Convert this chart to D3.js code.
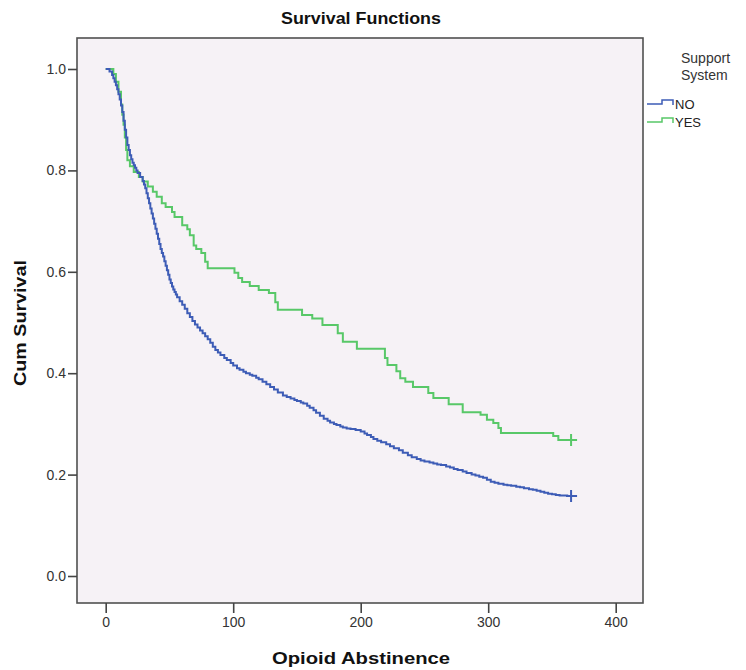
<!DOCTYPE html>
<html><head><meta charset="utf-8">
<script src="https://cdn.jsdelivr.net/npm/d3@7"></script>
<style>body{margin:0;background:#fff}svg{display:block}text{font-family:Arial,"Liberation Sans",sans-serif;fill:#333}</style>
</head><body><div id="chart"></div>
<script>
const title = "Survival Functions";
const xTitle = "Opioid Abstinence";
const yTitle = "Cum Survival";
const legendTitle = ["Support", "System"];
const groups = ["NO", "YES"];
const xTicks = [0, 100, 200, 300, 400];
const yTicks = [0.0, 0.2, 0.4, 0.6, 0.8, 1.0];

// NO (no support system) step times and survival
const noTimes = [0,3,5,6,7,8,9,10,11,12,13,14,15,16,17,18,19,20,21,22,23,24,25,27,29,30,31,32,33,34,35,36,37,38,39,40,41,42,43,44,45,46,47,48,49,50,51,52,53,54,55,56,58,60,62,64,66,68,70,72,74,76,78,80,82,84,86,88,90,93,95,98,100,103,105,108,110,113,115,118,120,123,126,129,132,135,139,142,145,148,150,153,155,158,160,163,165,168,171,174,176,179,181,184,186,189,192,196,200,203,205,208,210,213,216,220,223,226,230,233,237,240,244,247,250,254,257,260,263,267,270,273,276,280,283,287,290,293,296,299,302,305,308,312,315,318,322,325,328,332,335,338,341,344,347,350,353,356,358,362,365];
const noSurv  = [1.0,0.995,0.988,0.982,0.975,0.968,0.96,0.95,0.94,0.928,0.915,0.898,0.88,0.865,0.85,0.84,0.83,0.822,0.815,0.81,0.805,0.8,0.795,0.787,0.779,0.772,0.765,0.755,0.745,0.735,0.725,0.715,0.705,0.695,0.685,0.675,0.665,0.655,0.645,0.637,0.63,0.621,0.612,0.603,0.594,0.585,0.578,0.571,0.565,0.56,0.555,0.55,0.542,0.535,0.527,0.518,0.511,0.503,0.496,0.49,0.484,0.479,0.473,0.467,0.46,0.452,0.446,0.441,0.436,0.43,0.426,0.42,0.415,0.41,0.407,0.403,0.4,0.397,0.395,0.391,0.388,0.383,0.378,0.373,0.368,0.362,0.356,0.353,0.35,0.347,0.345,0.342,0.34,0.336,0.332,0.327,0.322,0.316,0.31,0.306,0.303,0.3,0.298,0.295,0.293,0.291,0.29,0.288,0.285,0.281,0.278,0.274,0.27,0.267,0.264,0.26,0.256,0.252,0.248,0.243,0.238,0.234,0.231,0.228,0.226,0.224,0.222,0.22,0.219,0.216,0.214,0.211,0.209,0.206,0.203,0.2,0.198,0.196,0.194,0.19,0.186,0.184,0.182,0.18,0.179,0.178,0.176,0.175,0.173,0.171,0.17,0.168,0.166,0.164,0.162,0.161,0.16,0.159,0.159,0.158,0.158];

// YES (support system) step times and survival
const yesTimes = [0,6,8,10,12,13,14,15,16,17,19,22,26,29,33,37,40,44,47,52,54,60,64,66,69,71,75,78,80,101,104,107,113,120,128,133,135,154,162,170,182,186,197,219,221,228,231,235,241,253,257,269,280,294,299,304,308,310,351,355,365];
const yesSurv  = [1.0,0.99,0.975,0.955,0.93,0.91,0.89,0.865,0.84,0.82,0.808,0.797,0.787,0.778,0.768,0.758,0.748,0.735,0.728,0.718,0.708,0.692,0.684,0.672,0.652,0.645,0.637,0.62,0.607,0.598,0.588,0.58,0.572,0.564,0.558,0.54,0.525,0.515,0.508,0.495,0.479,0.462,0.448,0.43,0.416,0.404,0.39,0.383,0.373,0.361,0.351,0.339,0.323,0.318,0.308,0.302,0.292,0.282,0.276,0.268,0.268];
const censorTime = 365;

const W = 746, H = 670;
const frame = {l: 77, r: 643, t: 38, b: 603};
const svg = d3.select("#chart").append("svg").attr("width", W).attr("height", H);

const x = d3.scaleLinear().domain([0, 400]).range([105.7, 615.7]);
const y = d3.scaleLinear().domain([0, 1]).range([576, 69]);

svg.append("rect").attr("x", frame.l).attr("y", frame.t)
  .attr("width", frame.r - frame.l).attr("height", frame.b - frame.t)
  .attr("fill", "#f6f2f6").attr("stroke", "#505050").attr("stroke-width", 1.6);

const yAxis = svg.append("g").attr("transform", `translate(${frame.l},0)`)
  .call(d3.axisLeft(y).tickValues(yTicks).tickFormat(d3.format(".1f")).tickSize(9).tickPadding(2));
const xAxis = svg.append("g").attr("transform", `translate(0,${frame.b})`)
  .call(d3.axisBottom(x).tickValues(xTicks).tickFormat(d3.format("d")).tickSize(10).tickPadding(4));
[yAxis, xAxis].forEach(g => {
  g.select(".domain").remove();
  g.selectAll(".tick line").attr("stroke", "#444").attr("stroke-width", 1.6);
  g.selectAll(".tick text").attr("font-size", 14).style("fill", "#333").attr("font-family", "Arial, 'Liberation Sans', sans-serif");
});

const colors = {NO: "#3d5cb6", YES: "#58c868"};
const series = [
  {name: "NO", t: noTimes, s: noSurv},
  {name: "YES", t: yesTimes, s: yesSurv}
];
const line = d3.line().x(d => x(d[0])).y(d => y(d[1])).curve(d3.curveStepAfter);
series.slice().reverse().forEach(sr => {
  const pts = sr.t.map((t, i) => [t, sr.s[i]]);
  svg.append("path").datum(pts).attr("d", line)
    .attr("fill", "none").attr("stroke", colors[sr.name]).attr("stroke-width", 2);
  const last = pts[pts.length - 1];
  const cx = x(censorTime), cy = y(last[1]);
  svg.append("path").attr("d", `M${cx - 5},${cy}H${cx + 6}M${cx},${cy - 6}V${cy + 6}`)
    .attr("stroke", colors[sr.name]).attr("stroke-width", 2).attr("fill", "none");
});

svg.append("text").attr("x", 361).attr("y", 24).attr("text-anchor", "middle")
  .attr("font-size", 17).attr("font-weight", "bold").style("fill", "#111")
  .attr("textLength", 160).attr("lengthAdjust", "spacingAndGlyphs").text(title);
svg.append("text").attr("x", 361).attr("y", 664).attr("text-anchor", "middle")
  .attr("font-size", 17).attr("font-weight", "bold").style("fill", "#111")
  .attr("textLength", 178).attr("lengthAdjust", "spacingAndGlyphs").text(xTitle);
svg.append("text").attr("transform", "translate(26,323) rotate(-90)").attr("text-anchor", "middle")
  .attr("font-size", 17).attr("font-weight", "bold").style("fill", "#111")
  .attr("textLength", 126).attr("lengthAdjust", "spacingAndGlyphs").text(yTitle);

legendTitle.forEach((t, i) => {
  svg.append("text").attr("x", 681).attr("y", 63 + i * 17).attr("font-size", 14).style("fill", "#333").text(t);
});
groups.forEach((g, i) => {
  const ly = 104 + i * 18;
  svg.append("path").attr("d", `M647,${ly}H662V${ly - 4}H673V${ly + 1}`)
    .attr("fill", "none").attr("stroke", colors[g]).attr("stroke-width", 1.5);
  svg.append("text").attr("x", 675).attr("y", ly + 5).attr("font-size", 13).style("fill", "#222").text(g);
});
</script></body></html>
